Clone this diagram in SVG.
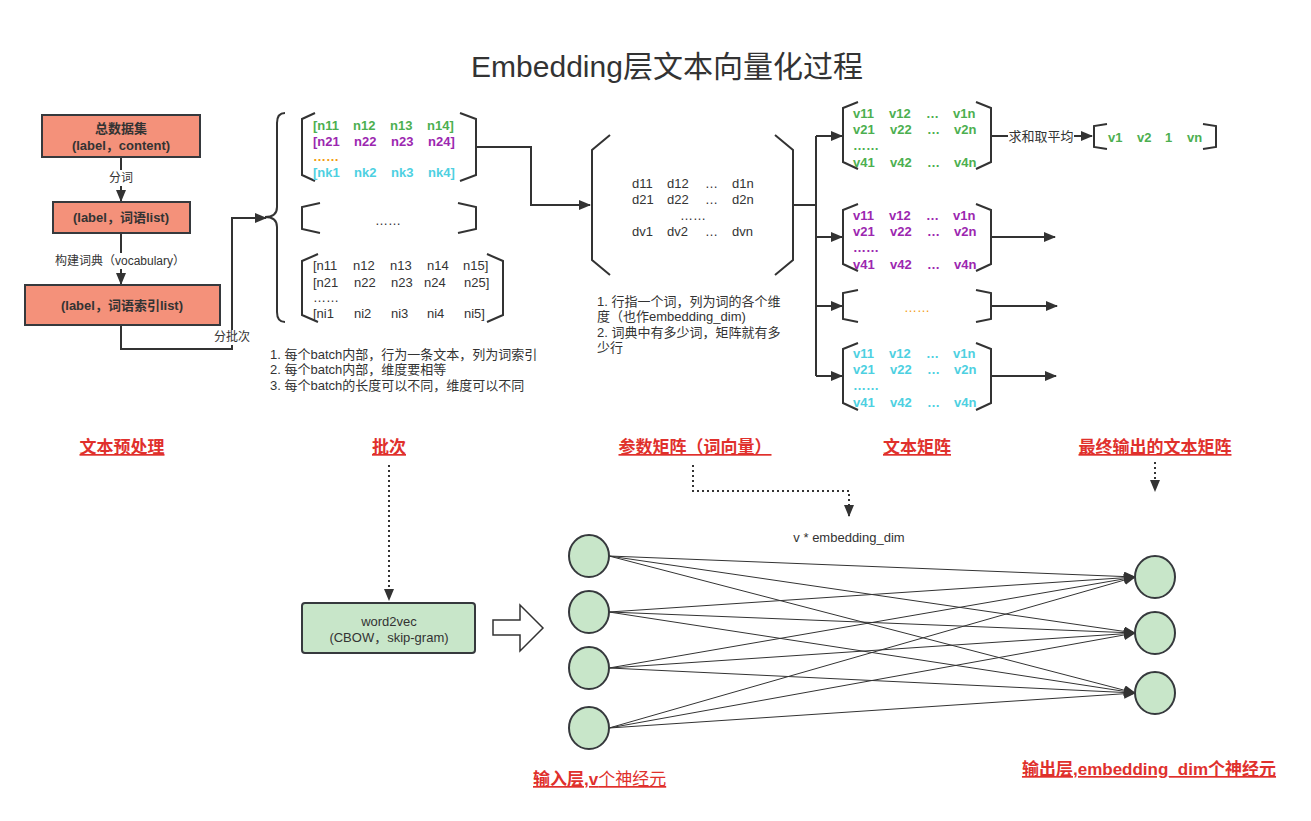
<svg xmlns="http://www.w3.org/2000/svg" width="1311" height="821" viewBox="0 0 1311 821">
<defs>
<style>
text{font-family:"Liberation Sans","Noto Sans CJK SC",sans-serif;fill:#333}
.t{font-size:30px;text-anchor:middle}
.bx{font-size:13px;font-weight:bold;text-anchor:middle}
.lb{font-size:12px;text-anchor:middle}
.note{font-size:13px}
.mb{font-size:13px;font-weight:bold}
.mr{font-size:13px}
.g{fill:#4CAF50}.p{fill:#9C27B0}.c{fill:#4DD0E1}.o{fill:#F39C12}
.red{font-size:17px;font-weight:bold;fill:#E0302C;text-anchor:middle;text-decoration:underline}
.ln{fill:none;stroke:#333;stroke-width:2}
.br{fill:none;stroke:#333;stroke-width:2}
.thin{fill:none;stroke:#333;stroke-width:1}
.dot{fill:none;stroke:#333;stroke-width:2;stroke-dasharray:2 3}
.salmon{fill:#F4917A;stroke:#36393d;stroke-width:2}
.green{fill:#C8E6C9;stroke:#36393d;stroke-width:2}
</style>
<marker id="a" markerWidth="12" markerHeight="10" refX="11" refY="5" orient="auto" markerUnits="userSpaceOnUse"><path d="M0,0 L12,5 L0,10 Z" fill="#333"/></marker>
<marker id="s" markerWidth="12" markerHeight="10" refX="11" refY="5" orient="auto" markerUnits="userSpaceOnUse"><path d="M0,0 L12,5 L0,10 Z" fill="#333"/></marker>
</defs>
<rect width="1311" height="821" fill="#fff"/>
<text class="t" x="667" y="77">Embedding层文本向量化过程</text>

<g id="connectors">
<path class="ln" d="M121,157 V201" marker-end="url(#a)"/>
<path class="ln" d="M121,233 V284" marker-end="url(#a)"/>
<path class="ln" d="M121,325 V349 H232 V218 H266" marker-end="url(#a)"/>
<path class="ln" d="M476,147 H531 V205 H590" marker-end="url(#a)"/>
<path class="ln" d="M793,205 H816 M816,136 V376"/>
<path class="ln" d="M816,136 H842" marker-end="url(#a)"/>
<path class="ln" d="M816,237 H842" marker-end="url(#a)"/>
<path class="ln" d="M816,306 H842" marker-end="url(#a)"/>
<path class="ln" d="M816,376 H842" marker-end="url(#a)"/>
<path class="ln" d="M991,136 H1092" marker-end="url(#a)"/>
<path class="ln" d="M991,237 H1055" marker-end="url(#a)"/>
<path class="ln" d="M991,306 H1057" marker-end="url(#a)"/>
<path class="ln" d="M991,376 H1056" marker-end="url(#a)"/>
<path class="dot" d="M389,465 V600" marker-end="url(#a)"/>
<path class="dot" d="M693,465 V491 H849 V516" marker-end="url(#a)"/>
<path class="dot" d="M1155,462 V491" marker-end="url(#a)"/>
<g class="thin">
<path d="M609,556 L1135,577" marker-end="url(#s)"/>
<path d="M609,556 L1135,633" marker-end="url(#s)"/>
<path d="M609,556 L1135,693" marker-end="url(#s)"/>
<path d="M609,612 L1135,577" marker-end="url(#s)"/>
<path d="M609,612 L1135,633" marker-end="url(#s)"/>
<path d="M609,612 L1135,693" marker-end="url(#s)"/>
<path d="M609,668 L1135,577" marker-end="url(#s)"/>
<path d="M609,668 L1135,633" marker-end="url(#s)"/>
<path d="M609,668 L1135,693" marker-end="url(#s)"/>
<path d="M609,728 L1135,577" marker-end="url(#s)"/>
<path d="M609,728 L1135,633" marker-end="url(#s)"/>
<path d="M609,728 L1135,693" marker-end="url(#s)"/>
</g>
<rect x="105" y="170" width="32" height="16" fill="#fff"/>
<text class="lb" x="121" y="182">分词</text>
<rect x="52" y="253" width="136" height="16" fill="#fff"/>
<text class="lb" x="120" y="265">构建词典（vocabulary）</text>
<rect x="212" y="330" width="40" height="15" fill="#fff"/>
<text class="lb" x="232" y="341">分批次</text>
<rect x="1008" y="128" width="66" height="16" fill="#fff"/>
<text class="lb" x="1041" y="141" style="font-size:13px">求和取平均</text>
</g>

<g id="box-total">
<rect class="salmon" x="42" y="115" width="158" height="42"/>
<text class="bx" x="121" y="133">总数据集</text>
<text class="bx" x="121" y="150">(label，content)</text>
</g>
<g id="box-words">
<rect class="salmon" x="53" y="202" width="137" height="31"/>
<text class="bx" x="121" y="222">(label，词语list)</text>
</g>
<g id="box-index">
<rect class="salmon" x="25" y="285" width="195" height="40"/>
<text class="bx" x="122" y="310">(label，词语索引list)</text>
</g>

<g id="batches">
<path class="br" d="M285,113 Q277,113 277,123 L277,207 Q277,217 265,217 Q277,217 277,227 L277,312 Q277,322 285,322"/>
<path class="br" d="M315,113 L302,119 L302,175 L315,181 M460,113 L476,119 L476,175 L460,181"/>
<text class="mb g" y="130"><tspan x="313">[n11</tspan><tspan x="353">n12</tspan><tspan x="390">n13</tspan><tspan x="427">n14]</tspan></text>
<text class="mb p" y="146"><tspan x="313">[n21</tspan><tspan x="354">n22</tspan><tspan x="391">n23</tspan><tspan x="428">n24]</tspan></text>
<text class="mb o" x="313" y="161">……</text>
<text class="mb c" y="177"><tspan x="313">[nk1</tspan><tspan x="354">nk2</tspan><tspan x="391">nk3</tspan><tspan x="428">nk4]</tspan></text>
<path class="br" d="M320,203 L302,207 L302,229 L320,233 M458,203 L476,207 L476,229 L458,233"/>
<text class="mr" x="375" y="225">……</text>
<path class="br" d="M318,254 L302,261 L302,315 L318,322 M487,254 L503,261 L503,315 L487,322"/>
<text class="mr" y="270"><tspan x="313">[n11</tspan><tspan x="353">n12</tspan><tspan x="390">n13</tspan><tspan x="427">n14</tspan><tspan x="463">n15]</tspan></text>
<text class="mr" y="287"><tspan x="313">[n21</tspan><tspan x="354">n22</tspan><tspan x="391">n23</tspan><tspan x="424">n24</tspan><tspan x="464">n25]</tspan></text>
<text class="mr" x="313" y="302">……</text>
<text class="mr" y="318"><tspan x="313">[ni1</tspan><tspan x="354">ni2</tspan><tspan x="391">ni3</tspan><tspan x="427">ni4</tspan><tspan x="464">ni5]</tspan></text>
<text class="note" x="270" y="359">1. 每个batch内部，行为一条文本，列为词索引</text>
<text class="note" x="270" y="374">2. 每个batch内部，维度要相等</text>
<text class="note" x="270" y="390">3. 每个batch的长度可以不同，维度可以不同</text>
</g>

<g id="param-matrix">
<path class="br" d="M610,135 L592,150 L592,260 L610,275 M775,135 L793,150 L793,260 L775,275"/>
<text class="mr" y="188"><tspan x="632">d11</tspan><tspan x="667">d12</tspan><tspan x="705">…</tspan><tspan x="732">d1n</tspan></text>
<text class="mr" y="204"><tspan x="632">d21</tspan><tspan x="667">d22</tspan><tspan x="705">…</tspan><tspan x="732">d2n</tspan></text>
<text class="mr" x="680" y="220">……</text>
<text class="mr" y="236"><tspan x="632">dv1</tspan><tspan x="667">dv2</tspan><tspan x="705">…</tspan><tspan x="732">dvn</tspan></text>
<text class="note" x="597" y="306">1. 行指一个词，列为词的各个维</text>
<text class="note" x="597" y="321">度（也作embedding_dim)</text>
<text class="note" x="597" y="337">2. 词典中有多少词，矩阵就有多</text>
<text class="note" x="597" y="352">少行</text>
</g>

<g id="text-matrices">
<path class="br" d="M858,102 L843,108 L843,162 L858,169 M976,102 L991,108 L991,162 L976,169"/>
<text class="mb g" y="118"><tspan x="853">v11</tspan><tspan x="889">v12</tspan><tspan x="926">…</tspan><tspan x="953">v1n</tspan></text>
<text class="mb g" y="134"><tspan x="853">v21</tspan><tspan x="890">v22</tspan><tspan x="927">…</tspan><tspan x="954">v2n</tspan></text>
<text class="mb g" x="853" y="150">……</text>
<text class="mb g" y="167"><tspan x="853">v41</tspan><tspan x="890">v42</tspan><tspan x="927">…</tspan><tspan x="954">v4n</tspan></text>

<path class="br" d="M858,204 L843,210 L843,264 L858,271 M976,204 L991,210 L991,264 L976,271"/>
<text class="mb p" y="220"><tspan x="853">v11</tspan><tspan x="889">v12</tspan><tspan x="926">…</tspan><tspan x="953">v1n</tspan></text>
<text class="mb p" y="236"><tspan x="853">v21</tspan><tspan x="890">v22</tspan><tspan x="927">…</tspan><tspan x="954">v2n</tspan></text>
<text class="mb p" x="853" y="252">……</text>
<text class="mb p" y="269"><tspan x="853">v41</tspan><tspan x="890">v42</tspan><tspan x="927">…</tspan><tspan x="954">v4n</tspan></text>

<path class="br" d="M858,290 L843,293 L843,319 L858,322 M976,290 L991,293 L991,319 L976,322"/>
<text class="mb o" x="904" y="312" style="font-weight:normal">……</text>

<path class="br" d="M858,343 L843,349 L843,403 L858,410 M976,343 L991,349 L991,403 L976,410"/>
<text class="mb c" y="358"><tspan x="853">v11</tspan><tspan x="889">v12</tspan><tspan x="926">…</tspan><tspan x="953">v1n</tspan></text>
<text class="mb c" y="374"><tspan x="853">v21</tspan><tspan x="890">v22</tspan><tspan x="927">…</tspan><tspan x="954">v2n</tspan></text>
<text class="mb c" x="853" y="390">……</text>
<text class="mb c" y="407"><tspan x="853">v41</tspan><tspan x="890">v42</tspan><tspan x="927">…</tspan><tspan x="954">v4n</tspan></text>
</g>

<g id="result-vector">
<path class="br" d="M1107,124 L1094,126 L1094,147 L1107,149 M1203,124 L1216,126 L1216,147 L1203,149"/>
<text class="mb g" y="142"><tspan x="1108">v1</tspan><tspan x="1137">v2</tspan><tspan x="1165">1</tspan><tspan x="1187">vn</tspan></text>
</g>

<g id="labels">
<text class="red" x="122" y="453">文本预处理</text>
<text class="red" x="389" y="453">批次</text>
<text class="red" x="695" y="453">参数矩阵（词向量）</text>
<text class="red" x="917" y="453">文本矩阵</text>
<text class="red" x="1155" y="453">最终输出的文本矩阵</text>
</g>

<g id="word2vec">
<rect class="green" x="302" y="603" width="173" height="50" rx="3"/>
<text class="lb" x="389" y="626" style="font-size:13px">word2vec</text>
<text class="lb" x="389" y="642" style="font-size:13px">(CBOW，skip-gram)</text>
</g>
<g id="big-arrow">
<path d="M493,620 H520 V605 L543,628 L520,651 V635 H493 Z" fill="#fff" stroke="#333" stroke-width="1.5"/>
</g>

<g id="input-layer">
<ellipse class="green" cx="589" cy="556" rx="20" ry="21"/>
<ellipse class="green" cx="589" cy="612" rx="20" ry="21"/>
<ellipse class="green" cx="589" cy="668" rx="20" ry="21"/>
<ellipse class="green" cx="589" cy="728" rx="20" ry="21"/>
<text x="533" y="785" style="font-size:17px;fill:#E0302C;text-decoration:underline"><tspan font-weight="bold">输入层,v</tspan><tspan>个神经元</tspan></text>
</g>
<g id="output-layer">
<ellipse class="green" cx="1155" cy="577" rx="20" ry="21"/>
<ellipse class="green" cx="1155" cy="633" rx="20" ry="21"/>
<ellipse class="green" cx="1155" cy="693" rx="20" ry="21"/>
<text class="red" x="1149" y="775">输出层,embedding_dim个神经元</text>
</g>
<text class="lb" x="849" y="542" style="font-size:13px">v * embedding_dim</text>
</svg>
